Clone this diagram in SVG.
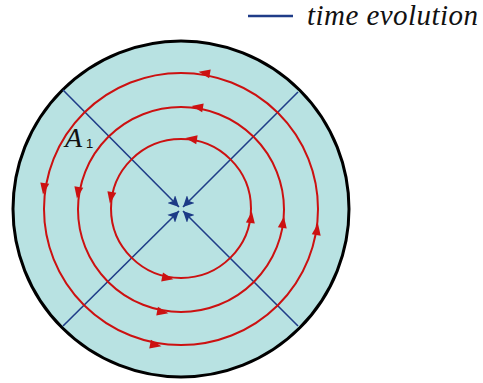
<svg xmlns="http://www.w3.org/2000/svg" width="483" height="383" viewBox="0 0 483 383">
<style>
.orbit{fill:none;stroke:#cc1111;stroke-width:2}
.axis{stroke:#1f3c88;stroke-width:1.6;fill:none}
</style>
<defs>
<path id="ah" d="M6.5,0 L-5,-4.5 L-5,4.5 Z" fill="#cc1111"/>
<marker id="bh" viewBox="0 0 10 10" refX="10" refY="5" markerWidth="7" markerHeight="7" orient="auto" markerUnits="strokeWidth">
<path d="M0,0 L10,5 L0,10 L2.5,5 Z" fill="#1c3a86"/>
</marker>
</defs>
<g id="disk">
<circle cx="181" cy="209" r="168" fill="#b8e2e2" stroke="#000" stroke-width="3"/>
</g>
<g id="connectors">
<line class="axis" x1="63" y1="90" x2="179" y2="207" marker-end="url(#bh)"/>
<line class="axis" x1="298" y1="92" x2="183" y2="207" marker-end="url(#bh)"/>
<line class="axis" x1="63" y1="326" x2="179" y2="211" marker-end="url(#bh)"/>
<line class="axis" x1="298" y1="326" x2="183" y2="211" marker-end="url(#bh)"/>
</g>
<g id="orbit-outer">
<ellipse class="orbit" cx="181" cy="209" rx="137" ry="136"/>
<use href="#ah" transform="translate(205,73) rotate(-170)"/>
<use href="#ah" transform="translate(44,188) rotate(98.7)"/>
<use href="#ah" transform="translate(155,345) rotate(10.8)"/>
<use href="#ah" transform="translate(317,230) rotate(-81.2)"/>
</g>
<g id="orbit-middle">
<ellipse class="orbit" cx="181" cy="209.5" rx="103" ry="102.5"/>
<use href="#ah" transform="translate(198,107) rotate(-170.5)"/>
<use href="#ah" transform="translate(78,192) rotate(99.4)"/>
<use href="#ah" transform="translate(162,312) rotate(10.5)"/>
<use href="#ah" transform="translate(283,223) rotate(-82)"/>
</g>
<g id="orbit-inner">
<ellipse class="orbit" cx="181" cy="208.5" rx="70" ry="69.5"/>
<use href="#ah" transform="translate(192,139) rotate(-171)"/>
<use href="#ah" transform="translate(111,197) rotate(99.7)"/>
<use href="#ah" transform="translate(167,278) rotate(11.5)"/>
<use href="#ah" transform="translate(251,218) rotate(-82.7)"/>
</g>
<g id="label-A1">
<text font-family="'Liberation Serif','Times New Roman',serif" font-style="italic" x="65" y="147" font-size="28" fill="#111">A</text>
<text font-family="'Liberation Sans',Arial,sans-serif" x="86" y="148" font-size="13" fill="#111">1</text>
</g>
<g id="legend">
<line x1="248" y1="16" x2="293" y2="16" stroke="#1f3c88" stroke-width="2.5"/>
<text font-family="'Liberation Serif','Times New Roman',serif" font-style="italic" x="307" y="25" font-size="29" fill="#111" textLength="171" lengthAdjust="spacing">time evolution</text>
</g>
</svg>
